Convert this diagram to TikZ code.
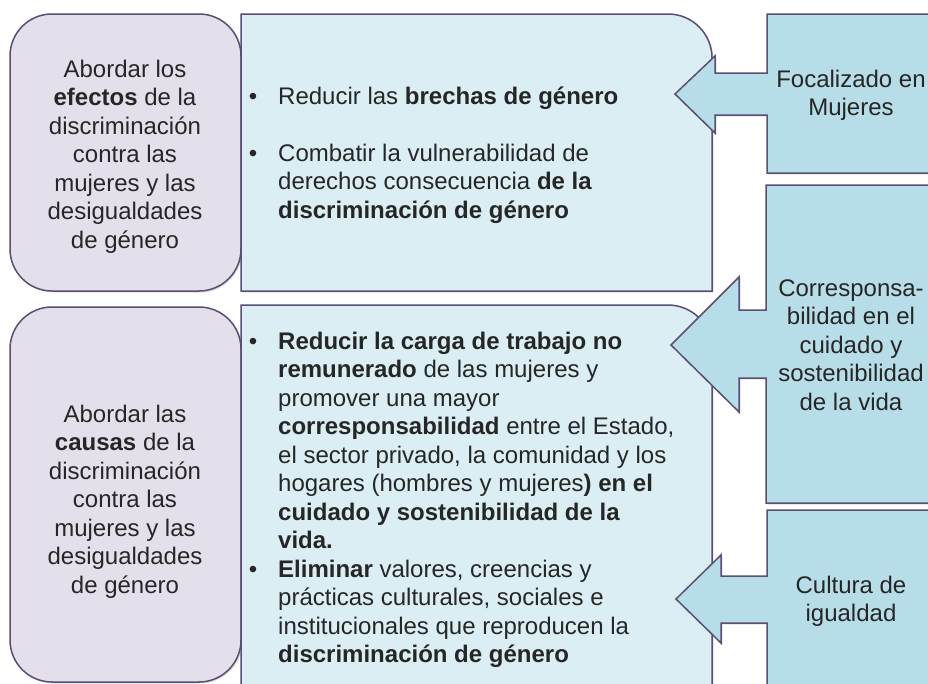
\documentclass[tikz,border=0pt]{standalone}
\usepackage{fontspec}
\setmainfont{Liberation Sans}
\usetikzlibrary{shadows}

\definecolor{lila}{HTML}{E5DFEC}
\definecolor{celeste}{HTML}{DAEEF3}
\definecolor{turquesa}{HTML}{B7DDE8}
\definecolor{borde}{HTML}{5A4E73}

\begin{document}
\begin{tikzpicture}[x=1pt, y=-1pt,
    caja/.style={draw=borde, line width=1.5pt,
        drop shadow={shadow xshift=1.5pt, shadow yshift=-1.5pt, opacity=0.25}},
    texto/.style={font=\fontsize{24}{28.5}\selectfont, inner sep=0pt, text=black!85}]
    \useasboundingbox (0,0) rectangle (928,683);
    \clip (0,0) rectangle (928,683);
    \fill[white] (0,0) rectangle (928,683);

    % draw the boxes on the left
    \filldraw[caja, fill=lila, rounded corners=42pt] (10,14) rectangle (241,291);
    \filldraw[caja, fill=lila, rounded corners=42pt] (10,307) rectangle (241,682);

    % the boxes in the middle (only the upper right corner is round)
    \filldraw[caja, fill=celeste] (241,291) -- (241,14) -- (668,14)
        arc[start angle=-90, end angle=0, radius=44] -- (712,291) -- cycle;
    \filldraw[caja, fill=celeste] (241,720) -- (241,305) -- (668,305)
        arc[start angle=-90, end angle=0, radius=44] -- (712,720) -- cycle;

    % the boxes on the right, each one with its arrow
    \filldraw[caja, fill=turquesa] (767,14) -- (945,14) -- (945,173) -- (767,173)
        -- (767,115) -- (715,115) -- (715,133) -- (675,94) -- (715,56)
        -- (715,73) -- (767,73) -- cycle;
    \filldraw[caja, fill=turquesa] (766,185) -- (945,185) -- (945,503) -- (766,503)
        -- (766,378) -- (739,378) -- (739,412) -- (671,345) -- (739,277)
        -- (739,310) -- (766,310) -- cycle;
    \filldraw[caja, fill=turquesa] (767,510) -- (945,510) -- (945,720) -- (767,720)
        -- (767,623) -- (721,623) -- (721,643) -- (676,599) -- (721,555)
        -- (721,576) -- (767,576) -- cycle;

    % the texts on the left (placed by the baseline of their last line)
    \node[texto, align=center, anchor=base] (efectos) at (125,248)
        {Abordar los\\ \textbf{efectos} de la\\ discriminación\\ contra las\\
         mujeres y las\\ desigualdades\\ de género};
    \node[texto, align=center, anchor=base] (causas) at (125,593)
        {Abordar las\\ \textbf{causas} de la\\ discriminación\\ contra las\\
         mujeres y las\\ desigualdades\\ de género};

    % the bullets in the middle
    \node[texto, anchor=base] (p1) at (253,104) {\textbullet};
    \node[texto, anchor=base] (p2) at (253,161) {\textbullet};
    \node[texto, anchor=base] (p3) at (253,349) {\textbullet};
    \node[texto, anchor=base] (p4) at (253,577) {\textbullet};

    \node[texto, align=left, anchor=base west] (brechas) at (278,104)
        {Reducir las \textbf{brechas de género}};
    \node[texto, align=left, anchor=base west] (derechos) at (278,218)
        {Combatir la vulnerabilidad de\\ derechos consecuencia \textbf{de la}\\
         \textbf{discriminación de género}};
    \node[texto, align=left, anchor=base west] (carga) at (278,548.5)
        {\textbf{Reducir la carga de trabajo no}\\
         \textbf{remunerado} de las mujeres y\\
         promover una mayor\\
         \textbf{corresponsabilidad} entre el Estado,\\
         el sector privado, la comunidad y los\\
         hogares (hombres y mujeres\textbf{) en el}\\
         \textbf{cuidado y sostenibilidad de la}\\
         \textbf{vida.}};
    \node[texto, align=left, anchor=base west] (valores) at (278,662.5)
        {\textbf{Eliminar} valores, creencias y\\
         prácticas culturales, sociales e\\
         institucionales que reproducen la\\
         \textbf{discriminación de género}};

    % the texts on the right
    \node[texto, align=center, anchor=base] (focal) at (851,115.5)
        {Focalizado en\\ Mujeres};
    \node[texto, align=center, anchor=base] (corresp) at (851,410)
        {Corresponsa-\\ bilidad en el\\ cuidado y\\ sostenibilidad\\ de la vida};
    \node[texto, align=center, anchor=base] (cultura) at (851,621.5)
        {Cultura de\\ igualdad};

\end{tikzpicture}
\end{document}
